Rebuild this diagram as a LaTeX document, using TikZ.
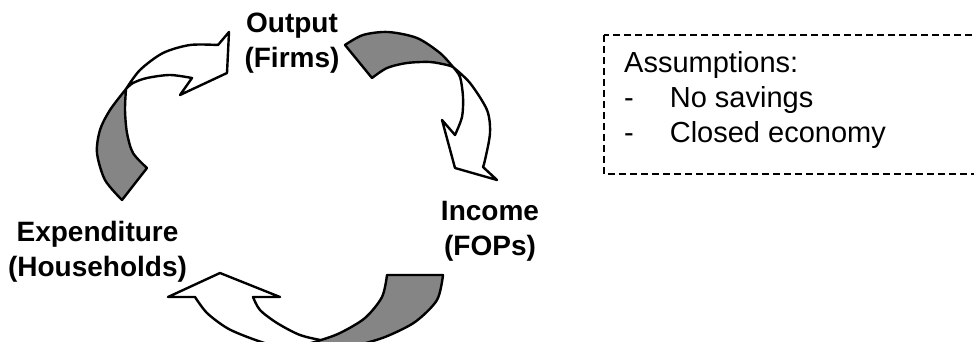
\documentclass[tikz,border=0pt]{standalone}
\usepackage{fontspec}
\setmainfont{Liberation Sans}
\begin{document}
\begin{tikzpicture}[x=1pt,y=-1pt,
  lbl/.style={font=\fontsize{28}{35}\selectfont\bfseries, align=center, inner sep=0pt},
  ribbon/.style={draw=black, line width=2.4pt, line join=round, fill=white},
  backside/.style={draw=black, line width=2.4pt, line join=round, fill=black!48},
  assumebox/.style={draw=black, line width=2pt, dash pattern=on 7pt off 4pt}]
\useasboundingbox (0,0) rectangle (974,342);
\clip (0,0) rectangle (974,342);

% labels
\node[lbl] (output) at (292,43) {Output\\(Firms)};
\node[lbl] (income) at (490,231) {Income\\(FOPs)};
\node[lbl] (expend) at (97.5,252) {Expenditure\\(Households)};

% right arrow (Output -> Income)
\draw[ribbon] plot[smooth] coordinates {(453,67) (470,83) (487,110) (490,133) (485,160) (483,167)}
  -- (497,180) -- (455,168) -- (442,120) -- (455,135)
  -- plot[smooth] coordinates {(455,135) (462,117) (463,97) (460,77) (453,67)} -- cycle;
\draw[backside] plot[smooth] coordinates {(345,45) (363,35) (388,32) (417,38) (440,53) (453,67)}
  -- plot[smooth] coordinates {(453,67) (447,65) (430,62) (407,63) (387,68) (372,78)} -- cycle;

% left arrow (Expenditure -> Output)
\draw[ribbon] plot[smooth] coordinates {(126,89) (140,70) (163,53) (190,45) (218,45)}
  -- (229,32) -- (227,73) -- (180,95) -- (192,78)
  -- plot[smooth] coordinates {(192,78) (170,75) (147,78) (133,83) (126,89)} -- cycle;
\draw[backside] plot[smooth] coordinates {(122,200) (105,180) (97,153) (100,130) (110,110) (126,89)}
  -- plot[smooth] coordinates {(126,89) (125,110) (127,133) (133,153) (147,168)} -- cycle;

% bottom arrow (Income -> Expenditure)
\draw[ribbon] (195,297) -- (168,297) -- (220,273) -- (280,297) -- (253,297)
  -- plot[smooth] coordinates {(253,297) (260,310) (277,323) (300,335) (325,341) (350,346)}
  -- (350,365) -- (285,365)
  -- plot[smooth] coordinates {(285,350) (250,338) (227,328) (207,313) (195,297)} -- cycle;
\draw[backside] (387,275) -- (443,275)
  -- plot[smooth] coordinates {(443,275) (437,300) (415,322) (385,337) (355,346) (330,352)}
  -- (300,360)
  -- plot[smooth] coordinates {(300,346) (318,341) (340,333) (365,318) (382,297) (387,275)} -- cycle;

% assumptions box
\draw[assumebox] (604,35) rectangle (990,174);
\node[anchor=base west, inner sep=0pt, font=\fontsize{29}{34.7}\selectfont] (assume) at (624,73)
  {\begin{tabular}[t]{@{}l@{\hspace{36pt}}l@{}}\multicolumn{2}{@{}l@{}}{Assumptions:}\\ - & No savings\\ - & Closed economy\end{tabular}};
\end{tikzpicture}
\end{document}
